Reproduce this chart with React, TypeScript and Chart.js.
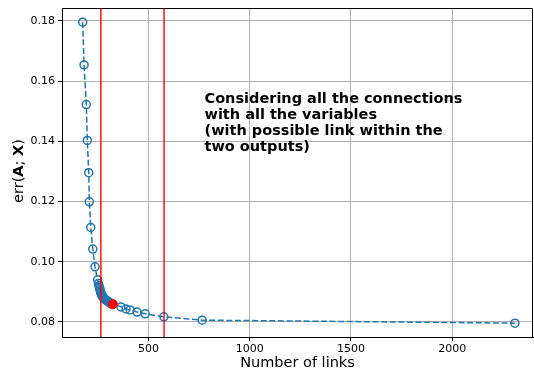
import React, { useEffect, useRef } from "react";
import { Chart, registerables } from "chart.js";

Chart.register(...registerables);

// Number of links for each model in the sweep
const linkCounts = [
  175, 182, 193, 198, 205, 208, 215, 225, 236, 249,
  253, 256, 258, 260, 262, 264, 266, 268, 271, 274,
  277, 280, 284, 288, 292, 296, 300, 304, 308, 312,
  316, 320, 324, 364, 389, 409, 444, 484, 576, 765, 2310,
];
// Error err(A; X) for each model
const errValues = [
  0.1796, 0.1654, 0.1522, 0.1403, 0.1296, 0.1199, 0.1114, 0.1042, 0.0983, 0.094,
  0.0928, 0.092, 0.0914, 0.0909, 0.0904, 0.0899, 0.0895, 0.0891, 0.0887, 0.0884,
  0.0881, 0.0879, 0.0876, 0.0874, 0.0872, 0.087, 0.0868, 0.0866, 0.0864, 0.0862,
  0.0861, 0.086, 0.0859, 0.085, 0.0843, 0.084, 0.0833, 0.0827, 0.0817, 0.0806, 0.0796,
];
const selectedLinks = [324];
const selectedErr = [0.0859];
const thresholdLinks = [265, 577];

const xTickValues = [500, 1000, 1500, 2000];
const yTickValues = [0.08, 0.1, 0.12, 0.14, 0.16, 0.18];
const xRange = [73, 2399];
const yRange = [0.075, 0.1843];

const annotationLines = [
  "Considering all the connections",
  "with all the variables",
  "(with possible link within the",
  "two outputs)",
];
const xTitle = "Number of links";
const yTitleParts: [string, boolean][] = [
  ["err(", false],
  ["A", true],
  ["; ", false],
  ["X", true],
  [")", false],
];

const FONT = "'DejaVu Sans', sans-serif";

const decorPlugin = {
  id: "decor",
  afterDraw(chart: any) {
    const { ctx, chartArea } = chart;
    const { left, right, top, bottom } = chartArea;
    ctx.save();
    // frame (top/right spines)
    ctx.strokeStyle = "#000";
    ctx.lineWidth = 1;
    ctx.beginPath();
    ctx.moveTo(left, Math.round(top) + 0.5);
    ctx.lineTo(Math.round(right) - 0.5, Math.round(top) + 0.5);
    ctx.lineTo(Math.round(right) - 0.5, bottom);
    ctx.stroke();

    ctx.fillStyle = "#000";
    ctx.textBaseline = "alphabetic";

    // annotation
    ctx.font = `bold 14.5px ${FONT}`;
    ctx.textAlign = "left";
    annotationLines.forEach((line, i) => {
      ctx.fillText(line, 204.5, 102.5 + i * 16);
    });

    // x title
    ctx.font = `14.5px ${FONT}`;
    ctx.textAlign = "center";
    ctx.fillText(xTitle, (left + right) / 2, 367);

    // y title with bold parts
    ctx.textAlign = "left";
    ctx.translate(23, 171);
    ctx.rotate(-Math.PI / 2);
    let total = 0;
    const widths = yTitleParts.map(([t, b]) => {
      ctx.font = `${b ? "bold " : ""}14.5px ${FONT}`;
      const w = ctx.measureText(t).width;
      total += w;
      return w;
    });
    let x = -total / 2;
    yTitleParts.forEach(([t, b], i) => {
      ctx.font = `${b ? "bold " : ""}14.5px ${FONT}`;
      ctx.fillText(t, x, 0);
      x += widths[i];
    });
    ctx.restore();
  },
};

export default function App() {
  const ref = useRef<HTMLCanvasElement | null>(null);
  useEffect(() => {
    if (!ref.current) return;
    const blue = "#1f77b4";
    const mainData = linkCounts.map((x, i) => ({ x, y: errValues[i] }));
    const selData = selectedLinks.map((x, i) => ({ x, y: selectedErr[i] }));
    const lineSets = thresholdLinks.map((x) => ({
      type: "line" as const,
      data: [
        { x, y: yRange[0] - 1 },
        { x, y: yRange[1] + 1 },
      ],
      borderColor: "#ff0000",
      borderWidth: 1.4,
      pointRadius: 0,
      showLine: true,
      order: 1,
    }));
    const zeroPad = (s: any) => {
      s.paddingLeft = 0;
      s.paddingRight = 0;
      s.paddingTop = 0;
      s.paddingBottom = 0;
    };
    const chart = new Chart(ref.current, {
      type: "scatter",
      data: {
        datasets: [
          {
            type: "scatter",
            data: selData,
            pointRadius: 4.5,
            pointBackgroundColor: "#ff0000",
            pointBorderColor: "#ff0000",
            pointBorderWidth: 1,
            order: 0,
          } as any,
          ...lineSets,
          {
            type: "line",
            data: mainData,
            borderColor: blue,
            borderWidth: 1.5,
            borderDash: [6, 2.6],
            pointRadius: 4,
            pointBorderWidth: 1.5,
            pointBorderColor: blue,
            pointBackgroundColor: "rgba(0,0,0,0)",
            showLine: true,
            tension: 0,
            order: 2,
          } as any,
        ],
      },
      options: {
        animation: false,
        responsive: false,
        devicePixelRatio: 1,
        layout: { autoPadding: false, padding: { top: 8, right: 1, left: 0, bottom: 0 } },
        plugins: { legend: { display: false }, tooltip: { enabled: false } },
        scales: {
          x: {
            type: "linear",
            min: xRange[0],
            max: xRange[1],
            afterBuildTicks: (s: any) => {
              s.ticks = xTickValues.map((v) => ({ value: v }));
            },
            afterFit: (s: any) => {
              s.height = 33;
              zeroPad(s);
            },
            grid: { color: "#b0b0b0", lineWidth: 1, tickColor: "#000", tickLength: 4 },
            border: { display: true, color: "#000", width: 1 },
            ticks: {
              color: "#000",
              font: { family: FONT, size: 11 },
              padding: 2,
              maxRotation: 0,
              callback: (v: any) => String(v),
            },
          },
          y: {
            type: "linear",
            min: yRange[0],
            max: yRange[1],
            afterBuildTicks: (s: any) => {
              s.ticks = yTickValues.map((v) => ({ value: v }));
            },
            afterFit: (s: any) => {
              s.width = 62;
              zeroPad(s);
            },
            grid: { color: "#b0b0b0", lineWidth: 1, tickColor: "#000", tickLength: 4 },
            border: { display: true, color: "#000", width: 1 },
            ticks: {
              color: "#000",
              font: { family: FONT, size: 11 },
              padding: 3,
              callback: (v: any) => Number(v).toFixed(2),
            },
          },
        },
      },
      plugins: [decorPlugin],
    } as any);
    return () => chart.destroy();
  }, []);
  return (
    <div style={{ position: "absolute", left: 0, top: 0, width: 534, height: 370, background: "#fff" }}>
      <canvas ref={ref} width={534} height={370} style={{ width: 534, height: 370, display: "block" }} />
    </div>
  );
}
